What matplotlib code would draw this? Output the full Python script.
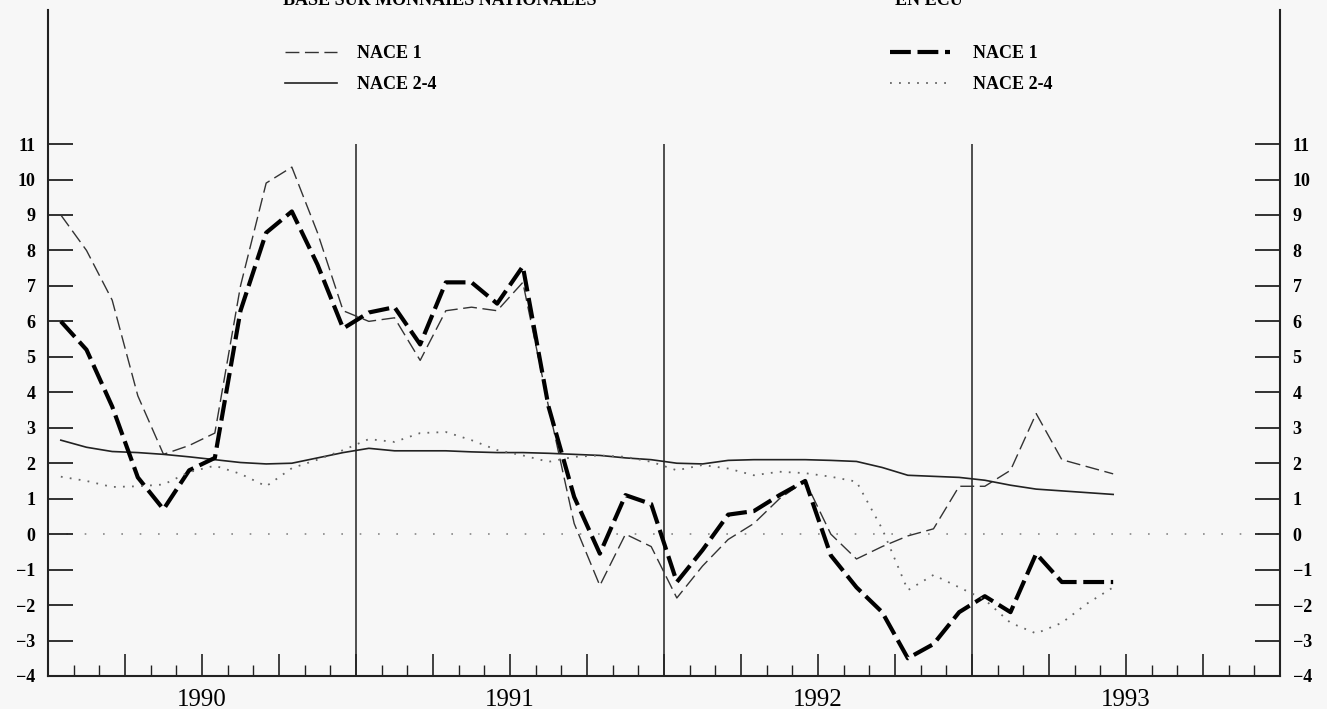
import numpy as np
import pandas as pd
import matplotlib
matplotlib.use('Agg')
import matplotlib.pyplot as plt
from matplotlib.ticker import MultipleLocator, FuncFormatter

# monthly observations, Jan 1990 - Jun 1993
months = pd.period_range('1990-01', '1993-06', freq='M')

nace1_nat = [9.0, 8.0, 6.6, 3.9, 2.25, 2.5, 2.85, 7.0, 9.9, 10.35, 8.5, 6.3,
             6.0, 6.1, 4.9, 6.3, 6.4, 6.3, 7.1, 3.6, 0.3, -1.45, 0.0, -0.35,
             -1.8, -0.9, -0.15, 0.3, 1.0, 1.5, 0.0, -0.7, -0.35, -0.05, 0.15, 1.35,
             1.35, 1.8, 3.4, 2.1, 1.9, 1.7]
nace24_nat = [2.65, 2.45, 2.33, 2.3, 2.25, 2.18, 2.1, 2.02, 1.98, 2.0, 2.15, 2.3,
              2.42, 2.35, 2.35, 2.35, 2.32, 2.3, 2.3, 2.28, 2.25, 2.22, 2.15, 2.1,
              2.0, 1.98, 2.08, 2.1, 2.1, 2.1, 2.08, 2.05, 1.88, 1.66, 1.63, 1.6,
              1.52, 1.38, 1.27, 1.22, 1.17, 1.12]
nace1_ecu = [6.0, 5.2, 3.6, 1.6, 0.7, 1.8, 2.15, 6.3, 8.5, 9.1, 7.6, 5.8,
             6.25, 6.4, 5.35, 7.1, 7.1, 6.5, 7.55, 3.6, 1.05, -0.55, 1.1, 0.85,
             -1.35, -0.45, 0.55, 0.65, 1.1, 1.5, -0.6, -1.5, -2.2, -3.5, -3.1, -2.2,
             -1.75, -2.2, -0.55, -1.35, -1.35, -1.35]
nace24_ecu = [1.62, 1.5, 1.33, 1.35, 1.4, 1.75, 1.93, 1.7, 1.35, 1.86, 2.1, 2.37,
              2.68, 2.6, 2.85, 2.88, 2.65, 2.37, 2.22, 2.04, 2.18, 2.22, 2.18, 2.04,
              1.8, 1.95, 1.85, 1.66, 1.76, 1.72, 1.62, 1.48, 0.15, -1.58, -1.15, -1.5,
              -1.85, -2.5, -2.8, -2.5, -1.95, -1.5]

year_breaks = [1991, 1992, 1993]
yticks = list(range(-4, 12))

x = months.year + (months.month - 0.5) / 12

bg = '#f7f7f7'
fig = plt.figure(figsize=(13.27, 7.09), dpi=100, facecolor=bg)
ax = fig.add_axes([48 / 1327, 33 / 709, 1232 / 1327, 666 / 709])
ax.set_facecolor(bg)

ax.axhline(0, color='#888888', lw=1.2, ls=(0, (1, 10)), zorder=1)
ax.vlines(year_breaks, -4, 11, color='#222222', lw=1.1, zorder=1)

l1, = ax.plot(x, nace1_nat, color='#333333', lw=1.0, ls=(0, (10, 4)), label='NACE 1')
l2, = ax.plot(x, nace24_nat, color='#222222', lw=1.2, label='NACE 2-4')
l3, = ax.plot(x, nace1_ecu, color='black', lw=3.0, ls=(0, (5, 1.6)), label='NACE 1')
l4, = ax.plot(x, nace24_ecu, color='#666666', lw=1.3, ls=(0, (1, 4)), label='NACE 2-4')

ax.set_xlim(1990, 1994)
ax.set_ylim(-4, 14.78)

for s in ['left', 'right', 'bottom']:
    ax.spines[s].set_linewidth(1.5)
    ax.spines[s].set_color('#222222')
ax.spines['top'].set_visible(False)

ax.set_yticks(yticks)
ax.tick_params(axis='y', direction='in', length=18, width=1.3, color='#222222',
               left=True, right=True, labelleft=True, labelright=True, pad=9)
for lbl in ax.get_yticklabels():
    lbl.set_fontfamily('Liberation Serif')
    lbl.set_fontweight('bold')
    lbl.set_fontsize(13)

ax.xaxis.set_major_locator(MultipleLocator(0.25))
ax.xaxis.set_minor_locator(MultipleLocator(1 / 12))
ax.xaxis.set_major_formatter(FuncFormatter(
    lambda v, p: str(int(np.floor(v))) if abs(v - np.floor(v) - 0.5) < 1e-6 else ''))
ax.tick_params(axis='x', which='major', direction='in', length=16, width=1.2,
               color='#222222', pad=9, labelsize=18)
ax.tick_params(axis='x', which='minor', direction='in', length=8, width=1.0, color='#222222')
for lbl in ax.get_xticklabels():
    lbl.set_fontfamily('Liberation Serif')

font = {'family': 'Liberation Serif', 'weight': 'bold', 'size': 13}
leg1 = ax.legend(handles=[l1, l2], loc='upper left',
                 bbox_to_anchor=(285 / 1327, 1 - 45 / 709), bbox_transform=fig.transFigure,
                 frameon=False, borderpad=0, borderaxespad=0, handlelength=2.9,
                 handletextpad=1.1, labelspacing=0.78, prop=font)
ax.add_artist(leg1)
ax.legend(handles=[l3, l4], loc='upper left',
          bbox_to_anchor=(890 / 1327, 1 - 45 / 709), bbox_transform=fig.transFigure,
          frameon=False, borderpad=0, borderaxespad=0, handlelength=3.3,
          handletextpad=1.3, labelspacing=0.78, prop=font)

fig.text(283 / 1327, 1 - 5 / 709, 'BASE SUR MONNAIES NATIONALES', va='baseline', **font)
fig.text(895 / 1327, 1 - 5 / 709, 'EN ECU', va='baseline', **font)

fig.savefig('out.png', dpi=100, facecolor=bg)
